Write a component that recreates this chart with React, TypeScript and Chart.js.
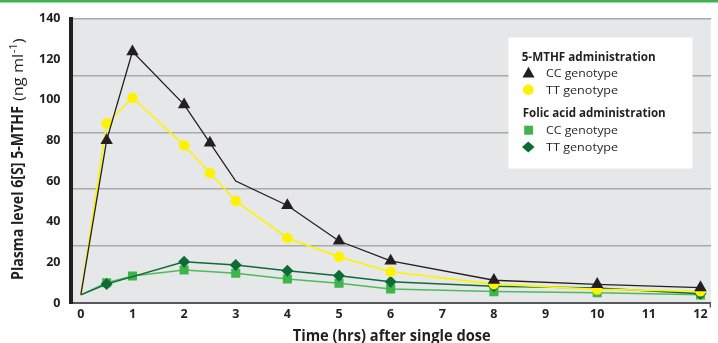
import React, { useEffect, useRef } from "react";
import { Chart, registerables } from "chart.js";

Chart.register(...registerables);

// ---- data ----
const mthfTimes = [0, 0.5, 1, 2, 2.5, 3, 4, 5, 6, 8, 10, 12];
const mthfCC = [4, 80, 123.7, 97.6, 78.8, 60, 48, 30.5, 20.7, 11.2, 9.2, 7.6];
const mthfTT = [4, 88.3, 101, 77.6, 64, 50.2, 32, 22.7, 15.4, 9.3, 6.7, 5.8];
const folicCCTimes = [0, 0.5, 1, 2, 3, 4, 5, 6, 8, 10, 12];
const folicCC = [4, 10, 13.3, 16.2, 14.6, 11.8, 9.7, 6.9, 5.6, 5.1, 4];
const folicTTTimes = [0, 0.5, 2, 3, 4, 5, 6, 8, 10, 12];
const folicTT = [4, 9.3, 20.3, 18.7, 15.9, 13.4, 10.5, 8.3, 7.4, 4.6];

// times drawn without a marker
const mthfCCUnmarked = [0, 3];
const defaultUnmarked = [0];

const xTickValues = [0, 1, 2, 3, 4, 5, 6, 7, 8, 9, 10, 11, 12];
const yTickValues = [0, 20, 40, 60, 80, 100, 120, 140];
const gridLevels = [28, 56, 84, 112, 140];

const legendHeaders = ["5-MTHF administration", "Folic acid administration"];
const genotypeLabels = ["CC genotype", "TT genotype"];
const xTitle = "Time (hrs) after single dose";
const yTitleBold = "Plasma level 6[S] 5-MTHF";
const yTitleUnit = "(ng ml";
const yTitleSup = "-1";
const yTitleClose = ")";

// ---- styles ----
const FONT = "'Open Sans', Lato, sans-serif";
const TEXT = "#231f20";
const BLACK = "#231f20";
const YELLOW = "#fff200";
const LIGHT_GREEN = "#3db54a";
const DARK_GREEN = "#0e6b38";

const pts = (xs: number[], ys: number[]) => xs.map((x, i) => ({ x, y: ys[i] }));

const radiusFn = (unmarked: number[], r: number) => (c: any) => {
  const x = c.parsed ? c.parsed.x : c.raw ? c.raw.x : null;
  return unmarked.includes(x) ? 0 : r;
};

function fitText(ctx: CanvasRenderingContext2D, text: string, x: number, y: number, font: string, width: number) {
  ctx.save();
  ctx.font = font;
  const w = ctx.measureText(text).width;
  ctx.translate(x, y);
  ctx.scale(width / w, 1);
  ctx.fillText(text, 0, 0);
  ctx.restore();
}

const decor = {
  id: "decor",
  beforeDraw(chart: any) {
    const { ctx, chartArea: a } = chart;
    ctx.save();
    ctx.fillStyle = "#3cb54a";
    ctx.fillRect(0, 0, chart.width, 2.5);
    ctx.fillStyle = "#e6e7e8";
    ctx.fillRect(a.left, a.top, a.right - a.left, a.bottom - a.top);
    ctx.restore();
  },
  afterDraw(chart: any) {
    const { ctx, chartArea: a } = chart;
    ctx.save();
    ctx.fillStyle = TEXT;
    ctx.textAlign = "left";
    ctx.textBaseline = "alphabetic";

    // right end tick of x axis
    ctx.strokeStyle = "#58595b";
    ctx.lineWidth = 1.5;
    ctx.beginPath();
    ctx.moveTo(a.right - 0.5, a.bottom);
    ctx.lineTo(a.right - 0.5, a.bottom + 4.5);
    ctx.stroke();

    // x title
    fitText(ctx, xTitle, 292.7, 341, `bold 16px ${FONT}`, 198);

    // y title (rotated)
    ctx.save();
    ctx.translate(22.7, 280);
    ctx.rotate(-Math.PI / 2);
    fitText(ctx, yTitleBold, 0, 0, `bold 15.5px ${FONT}`, 174);
    ctx.font = `14.5px ${FONT}`;
    const wUnit = ctx.measureText(yTitleUnit).width;
    const wClose = ctx.measureText(yTitleClose).width;
    ctx.font = `10px ${FONT}`;
    const wSup = ctx.measureText(yTitleSup).width;
    const s = 62 / (wUnit + wSup + wClose);
    ctx.translate(179, 0);
    ctx.scale(s, 1);
    ctx.font = `14.5px ${FONT}`;
    ctx.fillText(yTitleUnit, 0, 0);
    ctx.font = `10px ${FONT}`;
    ctx.fillText(yTitleSup, wUnit + 0.5, -6);
    ctx.font = `14.5px ${FONT}`;
    ctx.fillText(yTitleClose, wUnit + wSup + 0.5, 0);
    ctx.restore();

    // legend box
    ctx.fillStyle = "#ffffff";
    ctx.fillRect(508.5, 37.5, 184, 131);
    ctx.fillStyle = TEXT;
    fitText(ctx, legendHeaders[0], 521.7, 61, `bold 11.5px ${FONT}`, 134);
    fitText(ctx, genotypeLabels[0], 546, 77.3, `11.5px ${FONT}`, 72);
    fitText(ctx, genotypeLabels[1], 546, 93.5, `11.5px ${FONT}`, 72);
    fitText(ctx, legendHeaders[1], 522.7, 117.3, `bold 11.5px ${FONT}`, 143);
    fitText(ctx, genotypeLabels[0], 546, 134.3, `11.5px ${FONT}`, 72);
    fitText(ctx, genotypeLabels[1], 546, 150.7, `11.5px ${FONT}`, 72);

    // legend markers
    ctx.fillStyle = BLACK;
    ctx.beginPath();
    ctx.moveTo(528.5, 66.8);
    ctx.lineTo(534.5, 77.5);
    ctx.lineTo(522.5, 77.5);
    ctx.closePath();
    ctx.fill();

    ctx.fillStyle = YELLOW;
    ctx.beginPath();
    ctx.arc(528.3, 89.7, 5.4, 0, Math.PI * 2);
    ctx.fill();

    ctx.fillStyle = LIGHT_GREEN;
    ctx.fillRect(524.2, 125.7, 8.8, 9);

    ctx.fillStyle = DARK_GREEN;
    ctx.beginPath();
    ctx.moveTo(528.3, 141.6);
    ctx.lineTo(534.6, 147);
    ctx.lineTo(528.3, 152.4);
    ctx.lineTo(522, 147);
    ctx.closePath();
    ctx.fill();

    ctx.restore();
  },
};

export default function App() {
  const canvasRef = useRef<HTMLCanvasElement | null>(null);

  useEffect(() => {
    document.body.style.margin = "0";
    const canvas = canvasRef.current;
    if (!canvas) return;
    const tickFont = { family: FONT, size: 12.5, weight: "bold" as const };

    const chart = new Chart(canvas, {
      type: "line",
      data: {
        datasets: [
          {
            label: "5-MTHF CC genotype",
            data: pts(mthfTimes, mthfCC),
            borderColor: BLACK,
            backgroundColor: BLACK,
            borderWidth: 1.3,
            pointStyle: "triangle",
            pointRadius: radiusFn(mthfCCUnmarked, 7.2) as any,
            pointBorderWidth: 0,
            pointBackgroundColor: BLACK,
            tension: 0,
            yAxisID: "y",
            xAxisID: "x",
          },
          {
            label: "5-MTHF TT genotype",
            data: pts(mthfTimes, mthfTT),
            borderColor: YELLOW,
            backgroundColor: YELLOW,
            borderWidth: 1.6,
            pointStyle: "circle",
            pointRadius: radiusFn(defaultUnmarked, 5.3) as any,
            pointBorderWidth: 0,
            pointBackgroundColor: YELLOW,
            tension: 0,
            yAxisID: "y",
            xAxisID: "x",
          },
          {
            label: "Folic acid TT genotype",
            data: pts(folicTTTimes, folicTT),
            borderColor: DARK_GREEN,
            backgroundColor: DARK_GREEN,
            borderWidth: 1.5,
            pointStyle: "rectRot",
            pointRadius: radiusFn(defaultUnmarked, 6) as any,
            pointBorderWidth: 0,
            pointBackgroundColor: DARK_GREEN,
            tension: 0,
            yAxisID: "y",
            xAxisID: "x",
          },
          {
            label: "Folic acid CC genotype",
            data: pts(folicCCTimes, folicCC),
            borderColor: "#4dbb57",
            backgroundColor: LIGHT_GREEN,
            borderWidth: 1.5,
            pointStyle: "rect",
            pointRadius: radiusFn(defaultUnmarked, 6.4) as any,
            pointBorderWidth: 0,
            pointBackgroundColor: LIGHT_GREEN,
            tension: 0,
            yAxisID: "y",
            xAxisID: "x",
          },
        ],
      },
      options: {
        responsive: false,
        animation: false,
        events: [],
        layout: { padding: { top: 18.5, right: 1, left: 0, bottom: 0 } },
        plugins: {
          legend: { display: false },
          tooltip: { enabled: false },
          title: { display: false },
        },
        scales: {
          x: {
            type: "linear",
            axis: "x",
            position: "bottom",
            min: -0.2,
            max: 12.2,
            grid: { display: false, drawTicks: false },
            border: { display: true, color: "#58595b", width: 2 },
            ticks: { font: tickFont, color: TEXT, padding: 4, autoSkip: false, maxRotation: 0 },
            afterBuildTicks: (s: any) => {
              s.ticks = xTickValues.map((v) => ({ value: v }));
            },
            afterFit: (s: any) => {
              s.height = 40;
            },
          },
          y: {
            type: "linear",
            axis: "y",
            position: "left",
            min: 0,
            max: 140,
            grid: { display: false, drawTicks: false },
            border: { display: true, color: BLACK, width: 4 },
            ticks: { font: tickFont, color: TEXT, padding: 10 },
            afterBuildTicks: (s: any) => {
              s.ticks = yTickValues.map((v) => ({ value: v }));
            },
            afterFit: (s: any) => {
              s.width = 70.5;
            },
          },
          yGrid: {
            type: "linear",
            axis: "y",
            position: "right",
            min: 0,
            max: 140,
            grid: { display: true, color: "#a7a9ac", lineWidth: 1.5, drawTicks: false },
            border: { display: false },
            ticks: { display: false },
            afterBuildTicks: (s: any) => {
              s.ticks = gridLevels.map((v) => ({ value: v }));
            },
            afterFit: (s: any) => {
              s.width = 0;
            },
          },
        } as any,
      },
      plugins: [decor],
    });

    return () => chart.destroy();
  }, []);

  return (
    <div style={{ width: 718, height: 343 }}>
      <canvas ref={canvasRef} width={718} height={343} style={{ display: "block" }} />
    </div>
  );
}
